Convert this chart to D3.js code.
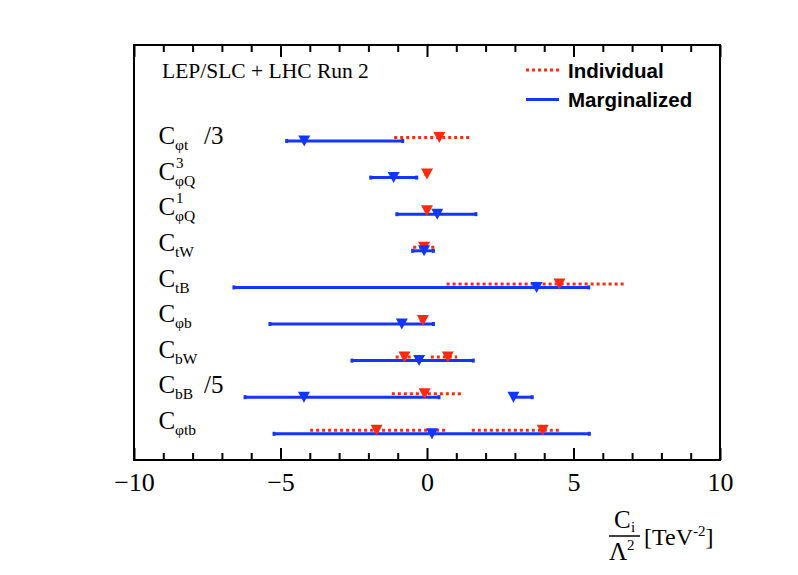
<!DOCTYPE html>
<html>
<head>
<meta charset="utf-8">
<script src="https://cdn.jsdelivr.net/npm/d3@7"></script>
<style>
  html, body { margin: 0; padding: 0; background: #fff; }
  svg { display: block; }
  .serif { font-family: "Liberation Serif", "Times New Roman", serif; }
  .sans { font-family: "Liberation Sans", Arial, sans-serif; font-weight: bold; }
</style>
</head>
<body>
<svg id="chart" width="798" height="575"></svg>
<script>
// ---------------- data ----------------
const categories = ["Cφt /3", "C3φQ", "C1φQ", "CtW", "CtB", "Cφb", "CbW", "CbB /5", "Cφtb"];
const labelSub = ["φt", "φQ", "φQ", "tW", "tB", "φb", "bW", "bB", "φtb"];
const labelSup = ["", "3", "1", "", "", "", "", "", ""];
const labelSuffix = ["/3", "", "", "", "", "", "", "/5", ""];

// Marginalized (blue, solid) intervals: row index, best value, low, high
const margRow  = [0, 1, 2, 3, 4, 5, 6, 7, 7, 8];
const margBest = [-4.19, -1.14, 0.35, -0.10, 3.74, -0.86, -0.27, -4.20, 2.95, 0.17];
const margLow  = [-4.79, -1.92, -1.03, -0.49, -6.59, -5.36, -2.56, -6.21, 2.94, -5.22];
const margHigh = [-0.83, -0.35, 1.67, 0.22, 5.52, 0.22, 1.58, 0.41, 3.59, 5.54];

// Individual (red, dotted) intervals
const indivRow  = [0, 1, 2, 3, 4, 5, 6, 6, 7, 8, 8];
const indivBest = [0.42, 0.00, 0.00, -0.10, 4.52, -0.14, -0.77, 0.71, -0.08, -1.72, 3.95];
const indivLow  = [-1.12, -0.10, -0.08, -0.47, 0.67, -0.25, -1.07, 0.13, -1.20, -3.99, 1.53];
const indivHigh = [1.44, 0.08, 0.08, 0.27, 6.72, -0.05, -0.52, 1.03, 1.26, 0.65, 4.52];

const xDomain = [-10, 10];
const majorTicks = [-10, -5, 0, 5, 10];
const minorTicks = d3.range(-10, 11, 1).filter(v => v % 5 !== 0);
const legendLabels = ["Individual", "Marginalized"];
const headerText = "LEP/SLC + LHC Run 2";

// ---------------- layout ----------------
const BLUE = "#1236ff";
const RED = "#ff2a10";
const frame = { left: 134, right: 720, top: 45, bottom: 460 };

const svg = d3.select("#chart");
const x = d3.scaleLinear().domain(xDomain).range([frame.left, frame.right]);
const y = d3.scalePoint().domain(d3.range(categories.length)).range([141, 433.8]);
const yLabel = d3.scalePoint().domain(d3.range(categories.length)).range([144, 429]);
const redOffset = -3.5;

// frame
svg.append("rect")
  .attr("x", frame.left).attr("y", frame.top)
  .attr("width", frame.right - frame.left).attr("height", frame.bottom - frame.top)
  .attr("fill", "none").attr("stroke", "#000").attr("stroke-width", 2);

// axes (ticks inside the frame, top and bottom)
function styleAxis(g) {
  g.select(".domain").remove();
  g.selectAll(".tick line").attr("stroke", "#000").attr("stroke-width", 2);
}
svg.append("g").attr("transform", `translate(0,${frame.bottom})`)
  .call(d3.axisBottom(x).tickValues(majorTicks).tickSize(-12).tickPadding(13).tickFormat(d3.format("d")))
  .call(styleAxis)
  .call(g => g.selectAll("text").attr("font-size", 26).attr("fill", "#000")
    .attr("font-family", "Liberation Serif, serif"));
svg.append("g").attr("transform", `translate(0,${frame.bottom})`)
  .call(d3.axisBottom(x).tickValues(minorTicks).tickSize(-7).tickFormat(""))
  .call(styleAxis);
svg.append("g").attr("transform", `translate(0,${frame.top})`)
  .call(d3.axisTop(x).tickValues(majorTicks).tickSize(-12).tickFormat(""))
  .call(styleAxis);
svg.append("g").attr("transform", `translate(0,${frame.top})`)
  .call(d3.axisTop(x).tickValues(minorTicks).tickSize(-7).tickFormat(""))
  .call(styleAxis);

// header text
svg.append("text").attr("class", "serif")
  .attr("x", 162).attr("y", 78).attr("font-size", 21.5).attr("fill", "#000")
  .text(headerText);

// row labels
const lab = svg.append("g").attr("class", "serif").attr("fill", "#000");
categories.forEach((c, i) => {
  const by = yLabel(i);
  lab.append("text").attr("x", 158.5).attr("y", by).attr("font-size", 25).text("C");
  lab.append("text").attr("x", 175).attr("y", by + 6).attr("font-size", 15.5).text(labelSub[i]);
  if (labelSup[i]) lab.append("text").attr("x", 176).attr("y", by - 12).attr("font-size", 15).text(labelSup[i]);
  if (labelSuffix[i]) lab.append("text").attr("x", 204).attr("y", by).attr("font-size", 25).text(labelSuffix[i]);
});

// marginalized lines (blue, solid)
const margIdx = d3.range(margRow.length);
const indivIdx = d3.range(indivRow.length);

svg.append("g").selectAll("line").data(margIdx).join("line")
  .attr("x1", i => x(margLow[i])).attr("x2", i => x(margHigh[i]))
  .attr("y1", i => y(margRow[i])).attr("y2", i => y(margRow[i]))
  .attr("stroke", BLUE).attr("stroke-width", 3);
svg.append("g").selectAll("rect").data(margIdx.flatMap(i => [[i, margLow[i]], [i, margHigh[i]]])).join("rect")
  .attr("x", d => x(d[1]) - 1.5).attr("y", d => y(margRow[d[0]]) - 2)
  .attr("width", 3).attr("height", 4).attr("fill", BLUE);

// individual lines (red, dotted)
svg.append("g").selectAll("line").data(indivIdx).join("line")
  .attr("x1", i => x(indivLow[i])).attr("x2", i => x(indivHigh[i]))
  .attr("y1", i => y(indivRow[i]) + redOffset).attr("y2", i => y(indivRow[i]) + redOffset)
  .attr("stroke", RED).attr("stroke-width", 3).attr("stroke-dasharray", "3,3");

// triangles
function tri(cx, cy) {
  return `M${cx - 6},${cy - 5.5}L${cx + 6},${cy - 5.5}L${cx},${cy + 5.5}Z`;
}
svg.append("g").selectAll("path").data(indivIdx).join("path")
  .attr("d", i => tri(x(indivBest[i]), y(indivRow[i]) + redOffset))
  .attr("fill", RED);
svg.append("g").selectAll("path").data(margIdx).join("path")
  .attr("d", i => tri(x(margBest[i]), y(margRow[i])))
  .attr("fill", BLUE);

// legend
const leg = svg.append("g");
leg.append("line").attr("x1", 526).attr("x2", 559).attr("y1", 70).attr("y2", 70)
  .attr("stroke", RED).attr("stroke-width", 3).attr("stroke-dasharray", "3,3");
leg.append("line").attr("x1", 526).attr("x2", 559).attr("y1", 99.5).attr("y2", 99.5)
  .attr("stroke", BLUE).attr("stroke-width", 3);
leg.append("text").attr("class", "sans").attr("x", 568).attr("y", 78.3).attr("font-size", 20.5)
  .attr("fill", "#000").text(legendLabels[0]);
leg.append("text").attr("class", "sans").attr("x", 568).attr("y", 107.3).attr("font-size", 20.5)
  .attr("fill", "#000").text(legendLabels[1]);

// x-axis title: C_i / Λ^2 [TeV^-2]
const t = svg.append("g").attr("class", "serif").attr("fill", "#000");
t.append("text").attr("x", 614).attr("y", 528).attr("font-size", 25).text("C");
t.append("text").attr("x", 631).attr("y", 532).attr("font-size", 15).text("i");
t.append("line").attr("x1", 609).attr("x2", 640).attr("y1", 536).attr("y2", 536)
  .attr("stroke", "#000").attr("stroke-width", 1.5);
t.append("text").attr("x", 609).attr("y", 560).attr("font-size", 25).text("Λ");
t.append("text").attr("x", 627).attr("y", 550).attr("font-size", 15).text("2");
const unit = t.append("text").attr("x", 644).attr("y", 545).attr("font-size", 24);
unit.append("tspan").text("[TeV");
unit.append("tspan").attr("dy", -9).attr("font-size", 15).text("-2");
unit.append("tspan").attr("dy", 9).text("]");
</script>
</body>
</html>
